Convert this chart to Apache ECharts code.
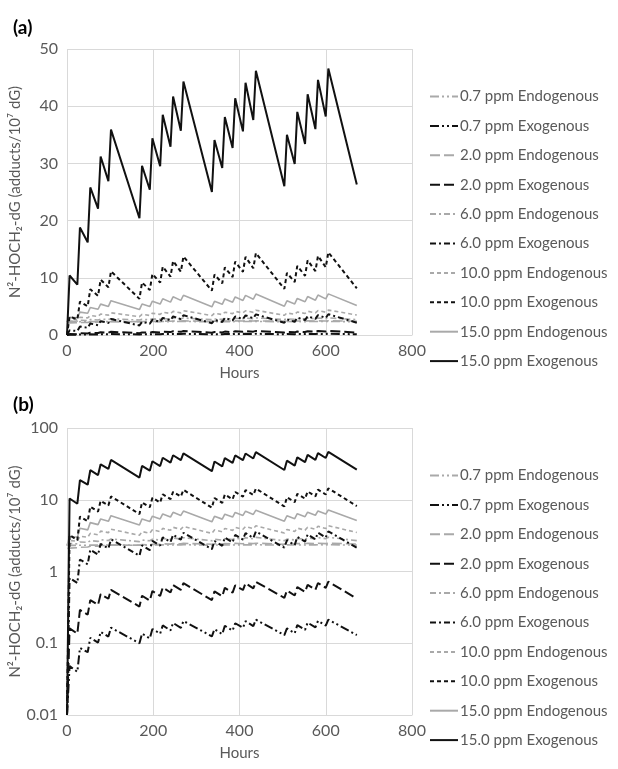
<!DOCTYPE html>
<html>
<head>
<meta charset="utf-8">
<script src="https://cdn.jsdelivr.net/npm/echarts@6/dist/echarts.min.js"></script>
<style>
  html, body { margin: 0; padding: 0; background: #fff; }
  #chart { width: 618px; height: 769px; }
</style>
</head>
<body>
<div id="chart"></div>
<script>
// time points: start of each exposure day and end of the 6 h exposure
const hours = [0, 6, 24, 30, 48, 54, 72, 78, 96, 102,
  168, 174, 192, 198, 216, 222, 240, 246, 264, 270,
  336, 342, 360, 366, 384, 390, 408, 414, 432, 438,
  504, 510, 528, 534, 552, 558, 576, 582, 600, 606, 672];

const endo07 = [2.3, 2.31, 2.31, 2.32, 2.32, 2.33, 2.33, 2.34, 2.33, 2.35,
  2.33, 2.34, 2.33, 2.34, 2.34, 2.35, 2.34, 2.35, 2.35, 2.36,
  2.33, 2.34, 2.34, 2.35, 2.34, 2.35, 2.35, 2.36, 2.35, 2.36,
  2.33, 2.35, 2.34, 2.35, 2.34, 2.35, 2.35, 2.36, 2.35, 2.36, 2.33];
const exo07 = [0, 0.048, 0.040, 0.086, 0.075, 0.119, 0.102, 0.144, 0.124, 0.165,
  0.100, 0.136, 0.117, 0.158, 0.136, 0.177, 0.151, 0.192, 0.164, 0.204,
  0.125, 0.157, 0.134, 0.175, 0.150, 0.190, 0.164, 0.203, 0.173, 0.213,
  0.130, 0.161, 0.138, 0.179, 0.154, 0.194, 0.166, 0.205, 0.176, 0.214, 0.130];
const endo2 = [2.1, 2.12, 2.14, 2.18, 2.2, 2.25, 2.26, 2.3, 2.3, 2.34,
  2.32, 2.37, 2.36, 2.4, 2.39, 2.43, 2.41, 2.45, 2.43, 2.47,
  2.40, 2.44, 2.42, 2.45, 2.43, 2.47, 2.44, 2.48, 2.45, 2.48,
  2.40, 2.44, 2.42, 2.46, 2.43, 2.47, 2.44, 2.48, 2.45, 2.49, 2.41];
const exo2 = [0, 0.161, 0.136, 0.291, 0.251, 0.40, 0.343, 0.484, 0.417, 0.556,
  0.325, 0.459, 0.394, 0.533, 0.457, 0.597, 0.51, 0.646, 0.553, 0.687,
  0.40, 0.529, 0.453, 0.591, 0.507, 0.642, 0.552, 0.684, 0.583, 0.716,
  0.43, 0.543, 0.463, 0.605, 0.518, 0.653, 0.558, 0.691, 0.592, 0.722, 0.42];
const endo6 = [2.3, 2.46, 2.43, 2.58, 2.54, 2.69, 2.63, 2.77, 2.70, 2.84,
  2.61, 2.74, 2.68, 2.82, 2.74, 2.88, 2.79, 2.93, 2.84, 2.96,
  2.68, 2.81, 2.74, 2.87, 2.79, 2.92, 2.83, 2.96, 2.86, 2.99,
  2.69, 2.83, 2.75, 2.89, 2.80, 2.93, 2.84, 2.97, 2.87, 3.00, 2.69];
const exo6 = [0, 0.81, 0.69, 1.47, 1.26, 2.01, 1.72, 2.43, 2.10, 2.80,
  1.66, 2.31, 1.98, 2.68, 2.30, 3.00, 2.57, 3.25, 2.78, 3.46,
  2.05, 2.66, 2.28, 2.97, 2.55, 3.23, 2.78, 3.44, 2.93, 3.60,
  2.15, 2.73, 2.33, 3.04, 2.61, 3.28, 2.81, 3.48, 2.98, 3.63, 2.15];
const endo10 = [2.3, 2.7, 2.65, 3.1, 3.0, 3.4, 3.25, 3.65, 3.48, 3.88,
  3.20, 3.60, 3.42, 3.81, 3.60, 3.99, 3.75, 4.13, 3.87, 4.25,
  3.40, 3.80, 3.58, 3.98, 3.74, 4.12, 3.87, 4.24, 3.95, 4.33,
  3.44, 3.84, 3.62, 4.02, 3.77, 4.15, 3.88, 4.26, 3.98, 4.35, 3.50];
const exo10 = [0, 3.22, 2.73, 5.83, 5.02, 8.0, 6.85, 9.67, 8.34, 11.13,
  6.32, 9.18, 7.87, 10.66, 9.15, 11.94, 10.2, 12.93, 11.07, 13.73,
  7.75, 10.57, 9.05, 11.81, 10.14, 12.83, 11.04, 13.67, 11.66, 14.32,
  8.06, 10.85, 9.27, 12.09, 10.35, 13.05, 11.16, 13.83, 11.84, 14.45, 8.15];
const endo15 = [2.3, 3.1, 3.0, 4.0, 3.8, 4.8, 4.5, 5.4, 5.0, 6.0,
  4.44, 5.41, 4.97, 5.91, 5.40, 6.34, 5.75, 6.68, 6.05, 6.95,
  4.93, 5.88, 5.37, 6.30, 5.73, 6.65, 6.04, 6.93, 6.25, 7.15,
  5.03, 5.98, 5.44, 6.40, 5.81, 6.72, 6.08, 6.98, 6.31, 7.19, 5.15];
const exo15 = [0, 10.4, 8.8, 18.8, 16.2, 25.8, 22.1, 31.2, 26.9, 35.9,
  20.4, 29.6, 25.4, 34.4, 29.5, 38.5, 32.9, 41.7, 35.7, 44.3,
  25.0, 34.1, 29.2, 38.1, 32.7, 41.4, 35.6, 44.1, 37.6, 46.2,
  26.0, 35.0, 29.9, 39.0, 33.4, 42.1, 36.0, 44.6, 38.2, 46.6, 26.3];

const names = ['0.7 ppm Endogenous', '0.7 ppm Exogenous', '2.0 ppm Endogenous', '2.0 ppm Exogenous',
  '6.0 ppm Endogenous', '6.0 ppm Exogenous', '10.0 ppm Endogenous', '10.0 ppm Exogenous',
  '15.0 ppm Endogenous', '15.0 ppm Exogenous'];
const values = [endo07, exo07, endo2, exo2, endo6, exo6, endo10, exo10, endo15, exo15];

const GREY = '#a9a9a9';
const BLACK = '#111';
const TXT = '#595959';
const GRIDC = '#d9d9d9';
const FONT = 'Lato';
// line dash per concentration
const dashes = [[9, 3, 2, 3, 2, 3], [10, 4], [6, 3, 2, 3], [4, 3], 'solid'];

function makeSeries(idx, logScale) {
  return names.map(function (n, i) {
    const exo = i % 2 === 1;
    return {
      name: n,
      type: 'line',
      xAxisIndex: idx,
      yAxisIndex: idx,
      symbol: 'none',
      animation: false,
      z: exo ? 3 : 2,
      lineStyle: {
        color: exo ? BLACK : GREY,
        width: exo ? 2 : 1.6,
        type: dashes[Math.floor(i / 2)]
      },
      itemStyle: { color: exo ? BLACK : GREY },
      // log axis cannot show the zero start, clamp to the axis floor
      data: hours.map(function (h, j) {
        const v = values[i][j];
        return [h, logScale ? Math.max(v, 0.01) : v];
      })
    };
  });
}

function xAx(idx) {
  return {
    type: 'value', gridIndex: idx, min: 0, max: 800, interval: 200,
    name: 'Hours', nameLocation: 'middle', nameGap: 31,
    nameTextStyle: { color: TXT, fontSize: 15, fontFamily: FONT },
    axisLine: { show: true, lineStyle: { color: GRIDC } },
    axisTick: { show: false },
    axisLabel: { color: TXT, fontSize: 16, fontFamily: FONT, margin: 8 },
    splitLine: { show: true, lineStyle: { color: GRIDC } }
  };
}

const yName = 'N\u00B2-HOCH\u2082-dG (adducts/10\u2077 dG)';

function yAx(idx, extra) {
  return Object.assign({
    gridIndex: idx,
    name: yName, nameLocation: 'middle', nameGap: 44, nameMoveOverlap: false,
    nameTextStyle: { color: TXT, fontSize: 15, fontFamily: FONT },
    axisLine: { show: false }, axisTick: { show: false },
    axisLabel: { color: TXT, fontSize: 16, fontFamily: FONT, margin: 9 },
    splitLine: { lineStyle: { color: GRIDC } }
  }, extra);
}

const legendBase = {
  orient: 'vertical', left: 424, itemWidth: 28, itemHeight: 14, itemGap: 14.4,
  itemStyle: { opacity: 0, borderWidth: 0 },
  textStyle: { color: TXT, fontSize: 15, fontFamily: FONT, padding: [0, 0, 0, -3] },
  data: names
};

const option = {
  backgroundColor: '#fff',
  title: [
    { text: '(a)', left: 8, top: 13, textStyle: { color: '#000', fontSize: 19, fontWeight: 'bold', fontFamily: FONT } },
    { text: '(b)', left: 8, top: 390, textStyle: { color: '#000', fontSize: 19, fontWeight: 'bold', fontFamily: FONT } }
  ],
  grid: [
    { left: 67, top: 49, width: 345, height: 286, containLabel: false, outerBoundsMode: 'none' },
    { left: 67, top: 428, width: 345, height: 287, containLabel: false, outerBoundsMode: 'none' }
  ],
  legend: [
    Object.assign({}, legendBase, { top: 84 }),
    Object.assign({}, legendBase, { top: 463 })
  ],
  xAxis: [xAx(0), xAx(1)],
  yAxis: [
    yAx(0, { type: 'value', min: 0, max: 50, interval: 10 }),
    yAx(1, { type: 'log', logBase: 10, min: 0.01, max: 100 })
  ],
  series: makeSeries(0, false).concat(makeSeries(1, true))
};

const chart = echarts.init(document.getElementById('chart'));
chart.setOption(option);
</script>
</body>
</html>
